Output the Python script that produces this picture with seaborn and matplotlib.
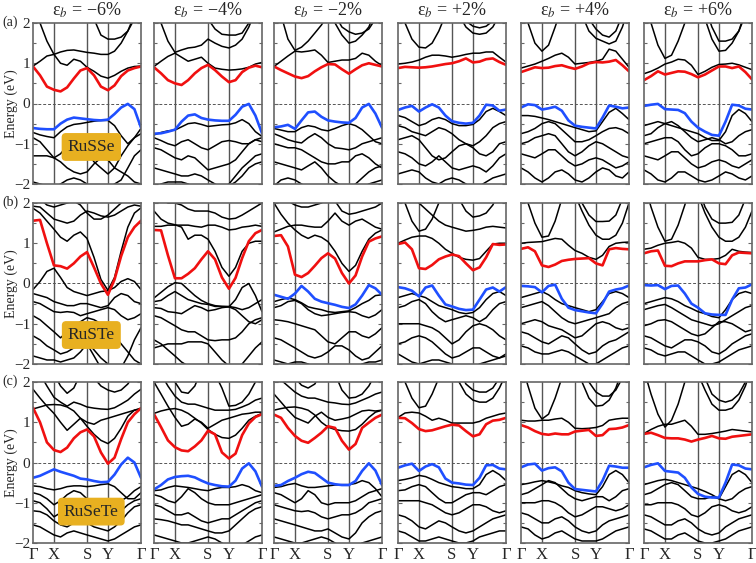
import matplotlib
matplotlib.use("Agg")
import matplotlib.pyplot as plt
import matplotlib.ticker as ticker
import seaborn as sns

# ── k-path and labels ──────────────────────────────────────────────────────────
K_PATH = [0.000, 0.065, 0.129, 0.194, 0.255, 0.316, 0.378, 0.439, 0.500,
          0.565, 0.629, 0.694, 0.755, 0.816, 0.878, 0.939, 1.000]
K_TICKS = [0.0, 0.194, 0.5, 0.694, 1.0]
K_LABELS = ["Γ", "X", "S", "Y", "Γ"]

STRAINS = ["−6%", "−4%", "−2%", "+2%", "+4%", "+6%"]
MATERIALS = ["RuSSe", "RuSTe", "RuSeTe"]
ROW_TAGS = ["(a)", "(b)", "(c)"]
LABEL_Y = [-1.08, -1.28, -1.22]

# ── (a) RuSSe ──────────────────────────────────────────────────────────────────
russe_cbm = [
    [0.92, 0.70, 0.42, 0.34, 0.30, 0.40, 0.62, 0.82, 0.88, 0.70, 0.42, 0.33, 0.45, 0.68, 0.82, 0.88, 0.92],
    [0.90, 0.75, 0.58, 0.50, 0.46, 0.58, 0.75, 0.88, 0.96, 0.83, 0.67, 0.53, 0.58, 0.78, 0.89, 0.94, 0.90],
    [0.92, 0.83, 0.75, 0.67, 0.63, 0.68, 0.80, 0.90, 0.98, 0.97, 0.85, 0.74, 0.85, 0.95, 1.00, 0.96, 0.92],
    [0.88, 0.91, 0.90, 0.89, 0.90, 0.92, 0.95, 0.98, 1.00, 1.05, 1.12, 1.02, 1.04, 1.10, 1.12, 1.03, 0.96],
    [0.78, 0.84, 0.90, 0.88, 0.89, 0.93, 0.95, 0.90, 0.86, 0.92, 1.00, 1.03, 1.02, 1.04, 1.08, 0.95, 0.80],
    [0.58, 0.68, 0.80, 0.72, 0.76, 0.80, 0.79, 0.73, 0.65, 0.72, 0.82, 0.92, 0.92, 0.88, 0.92, 0.78, 0.60],
]
russe_vbm = [
    [-0.61, -0.63, -0.64, -0.64, -0.50, -0.40, -0.35, -0.37, -0.39, -0.41, -0.42, -0.40, -0.26, -0.10, -0.01, -0.14, -0.60],
    [-0.75, -0.74, -0.70, -0.65, -0.45, -0.30, -0.27, -0.36, -0.40, -0.42, -0.43, -0.43, -0.28, -0.08, -0.01, -0.30, -0.74],
    [-0.59, -0.57, -0.53, -0.63, -0.42, -0.22, -0.20, -0.33, -0.42, -0.45, -0.47, -0.48, -0.36, -0.10, -0.01, -0.25, -0.60],
    [-0.16, -0.10, -0.06, -0.20, -0.10, -0.02, -0.10, -0.30, -0.44, -0.48, -0.50, -0.48, -0.30, -0.03, -0.05, -0.18, -0.15],
    [-0.10, -0.02, -0.04, -0.15, -0.12, -0.08, -0.18, -0.42, -0.55, -0.58, -0.60, -0.62, -0.35, -0.05, -0.08, -0.12, -0.10],
    [-0.06, -0.03, -0.01, -0.14, -0.15, -0.16, -0.24, -0.45, -0.60, -0.70, -0.78, -0.80, -0.45, -0.03, -0.05, -0.13, -0.15],
]
russe_other = [
    [   # -6%
        [0.93, 1.05, 1.18, 1.22, 1.00, 0.95, 1.10, 1.05, 0.90, 0.80, 0.68, 0.63, 0.70, 0.80, 0.88, 0.92, 0.93],
        [2.60, 2.00, 1.55, 1.22, 1.28, 1.32, 1.33, 1.30, 1.27, 1.25, 1.22, 1.22, 1.30, 1.50, 1.80, 2.10, 2.40],
        [3.00, 2.90, 2.80, 2.70, 2.70, 2.75, 2.80, 2.70, 2.50, 2.10, 1.70, 1.60, 1.60, 1.65, 1.80, 2.20, 2.60],
        [-0.72, -0.78, -0.82, -0.85, -0.70, -0.58, -0.52, -0.50, -0.47, -0.44, -0.42, -0.42, -0.55, -0.80, -1.00, -0.85, -0.62],
        [-0.85, -0.95, -1.15, -1.35, -1.25, -1.05, -0.95, -1.00, -1.20, -1.45, -1.60, -1.75, -1.60, -1.30, -1.05, -0.85, -0.75],
        [-1.30, -1.30, -1.30, -1.35, -1.45, -1.60, -1.70, -1.75, -1.70, -1.50, -1.35, -1.40, -1.60, -1.70, -1.80, -1.95, -2.00],
        [-1.95, -2.00, -2.05, -2.10, -2.00, -1.90, -1.85, -1.90, -2.00, -2.10, -2.15, -2.10, -2.00, -1.90, -1.60, -1.30, -1.15],
    ],
    [   # -4%
        [0.92, 1.05, 1.17, 1.25, 1.15, 1.05, 1.10, 1.15, 1.00, 0.88, 0.85, 0.83, 0.84, 0.86, 0.90, 0.98, 1.02],
        [2.60, 2.00, 1.55, 1.27, 1.33, 1.38, 1.40, 1.45, 1.60, 1.50, 1.42, 1.38, 1.45, 1.60, 1.90, 2.30, 2.60],
        [3.00, 2.90, 2.80, 2.80, 2.80, 2.70, 2.50, 2.30, 2.10, 1.85, 1.72, 1.70, 1.70, 1.75, 2.00, 2.40, 2.80],
        [-0.78, -0.72, -0.68, -0.66, -0.58, -0.50, -0.48, -0.52, -0.57, -0.55, -0.53, -0.52, -0.48, -0.40, -0.50, -0.70, -0.82],
        [-0.85, -0.92, -1.00, -1.05, -0.95, -0.90, -1.00, -1.10, -1.15, -1.05, -0.95, -0.92, -0.95, -1.00, -1.00, -0.90, -0.85],
        [-1.10, -1.15, -1.25, -1.35, -1.40, -1.30, -1.35, -1.50, -1.65, -1.60, -1.55, -1.50, -1.40, -1.20, -1.00, -0.90, -0.95],
        [-1.60, -1.65, -1.70, -1.75, -1.80, -1.80, -1.75, -1.80, -1.90, -2.00, -2.10, -2.00, -1.80, -1.60, -1.45, -1.30, -1.25],
        [-2.10, -2.00, -1.95, -1.95, -1.95, -2.00, -2.10, -2.20, -2.20, -2.15, -2.10, -2.05, -1.95, -1.80, -1.60, -1.50, -1.45],
    ],
    [   # -2%
        [0.92, 1.05, 1.18, 1.30, 1.28, 1.30, 1.33, 1.20, 1.02, 1.05, 1.08, 1.08, 1.12, 1.25, 1.20, 1.05, 0.94],
        [2.80, 2.20, 1.60, 1.32, 1.40, 1.55, 1.75, 1.95, 2.20, 2.50, 2.80, 3.00, 3.00, 3.00, 3.00, 3.00, 3.00],
        [3.00, 3.00, 3.00, 3.00, 3.00, 3.00, 2.90, 2.70, 2.40, 2.00, 1.70, 1.50, 1.55, 1.70, 1.90, 2.30, 2.70],
        [3.00, 3.00, 3.00, 3.00, 3.00, 3.00, 3.00, 2.90, 2.60, 2.20, 1.90, 1.78, 1.72, 1.75, 1.85, 2.10, 2.50],
        [-0.62, -0.66, -0.70, -0.70, -0.60, -0.55, -0.58, -0.65, -0.68, -0.62, -0.55, -0.50, -0.55, -0.65, -0.80, -0.95, -1.00],
        [-0.75, -0.82, -0.90, -0.95, -0.98, -0.85, -0.75, -0.85, -1.00, -1.10, -1.12, -1.15, -1.10, -1.00, -0.95, -0.90, -0.85],
        [-1.00, -1.05, -1.10, -1.10, -1.15, -1.25, -1.35, -1.45, -1.50, -1.50, -1.45, -1.45, -1.30, -1.25, -1.35, -1.50, -1.60],
        [-1.45, -1.50, -1.55, -1.60, -1.65, -1.55, -1.45, -1.60, -1.80, -1.95, -2.05, -2.10, -2.00, -1.85, -1.70, -1.60, -1.55],
        [-2.05, -1.90, -1.85, -1.90, -2.00, -2.10, -2.20, -2.20, -2.20, -2.20, -2.20, -2.20, -2.20, -2.10, -2.00, -1.95, -1.90],
    ],
    [   # +2%
        [0.98, 1.00, 1.03, 1.08, 1.15, 1.20, 1.20, 1.18, 1.15, 1.18, 1.22, 1.25, 1.25, 1.28, 1.28, 1.15, 1.03],
        [2.50, 2.00, 1.60, 1.40, 1.38, 1.50, 1.80, 2.20, 2.60, 3.00, 3.00, 3.00, 3.00, 3.00, 3.00, 3.00, 3.00],
        [3.00, 3.00, 3.00, 3.00, 3.00, 3.00, 3.00, 2.90, 2.60, 2.20, 1.90, 1.75, 1.72, 1.75, 1.90, 2.20, 2.60],
        [3.00, 3.00, 3.00, 3.00, 3.00, 3.00, 3.00, 3.00, 2.80, 2.40, 2.05, 1.92, 1.88, 1.92, 2.05, 2.30, 2.70],
        [-0.30, -0.35, -0.45, -0.55, -0.50, -0.40, -0.35, -0.40, -0.50, -0.55, -0.55, -0.52, -0.40, -0.20, -0.12, -0.20, -0.30],
        [-0.55, -0.60, -0.70, -0.75, -0.80, -0.70, -0.60, -0.65, -0.75, -0.90, -1.00, -1.05, -0.95, -0.80, -0.60, -0.50, -0.45],
        [-0.90, -0.85, -0.80, -0.90, -1.10, -1.30, -1.40, -1.35, -1.20, -1.05, -1.00, -1.10, -1.25, -1.30, -1.20, -1.00, -0.95],
        [-1.20, -1.25, -1.35, -1.50, -1.55, -1.45, -1.30, -1.45, -1.60, -1.65, -1.60, -1.55, -1.60, -1.70, -1.55, -1.35, -1.25],
        [-1.75, -1.70, -1.65, -1.70, -1.85, -1.95, -2.00, -1.90, -1.85, -1.90, -2.00, -2.10, -2.05, -1.95, -1.85, -1.80, -1.75],
    ],
    [   # +4%
        [0.88, 0.93, 0.98, 1.05, 1.12, 1.20, 1.25, 1.15, 0.98, 1.00, 1.02, 1.05, 1.10, 1.35, 1.30, 1.10, 0.90],
        [2.60, 2.00, 1.50, 1.30, 1.45, 1.90, 2.40, 2.90, 3.00, 3.00, 3.00, 3.00, 3.00, 3.00, 3.00, 3.00, 3.00],
        [3.00, 3.00, 3.00, 3.00, 3.00, 3.00, 3.00, 2.90, 2.60, 2.20, 1.80, 1.62, 1.55, 1.48, 1.55, 1.90, 2.40],
        [3.00, 3.00, 3.00, 3.00, 3.00, 3.00, 3.00, 3.00, 2.90, 2.50, 2.10, 1.85, 1.70, 1.65, 1.80, 2.20, 2.70],
        [-0.30, -0.30, -0.32, -0.36, -0.40, -0.45, -0.50, -0.55, -0.60, -0.65, -0.70, -0.68, -0.45, -0.22, -0.12, -0.25, -0.40],
        [-0.75, -0.70, -0.62, -0.50, -0.45, -0.50, -0.65, -0.80, -0.95, -0.95, -0.90, -0.80, -0.70, -0.62, -0.60, -0.65, -0.75],
        [-1.00, -0.95, -0.85, -0.80, -0.75, -0.80, -1.00, -1.20, -1.30, -1.20, -1.05, -0.95, -1.00, -1.10, -1.20, -1.30, -1.35],
        [-1.25, -1.30, -1.35, -1.25, -1.15, -1.15, -1.30, -1.45, -1.55, -1.50, -1.40, -1.35, -1.40, -1.50, -1.60, -1.55, -1.45],
        [-1.60, -1.70, -1.85, -1.95, -1.85, -1.70, -1.65, -1.75, -1.90, -1.95, -1.85, -1.70, -1.60, -1.65, -1.80, -1.85, -1.70],
    ],
    [   # +6%
        [0.74, 0.80, 0.88, 0.98, 1.03, 1.10, 1.08, 0.95, 0.72, 0.80, 0.90, 0.97, 0.98, 1.00, 0.96, 0.90, 0.84],
        [2.60, 2.00, 1.45, 1.12, 1.20, 1.55, 2.00, 2.50, 3.00, 3.00, 3.00, 3.00, 3.00, 3.00, 3.00, 3.00, 3.00],
        [3.00, 3.00, 3.00, 3.00, 3.00, 3.00, 3.00, 3.00, 2.70, 2.10, 1.60, 1.30, 1.32, 1.50, 1.80, 2.30, 2.80],
        [3.00, 3.00, 3.00, 3.00, 3.00, 3.00, 3.00, 3.00, 3.00, 2.40, 1.90, 1.55, 1.55, 1.60, 1.80, 2.20, 2.60],
        [-0.55, -0.50, -0.45, -0.50, -0.55, -0.60, -0.65, -0.70, -0.75, -0.85, -0.92, -0.92, -0.70, -0.30, -0.15, -0.25, -0.45],
        [-0.80, -0.75, -0.60, -0.50, -0.45, -0.55, -0.70, -0.85, -0.95, -0.90, -0.85, -0.90, -1.00, -0.95, -0.80, -0.70, -0.65],
        [-1.00, -0.95, -0.90, -0.85, -0.85, -0.95, -1.15, -1.30, -1.25, -1.10, -1.00, -1.00, -1.05, -1.15, -1.30, -1.30, -1.25],
        [-1.30, -1.35, -1.40, -1.30, -1.20, -1.20, -1.35, -1.50, -1.60, -1.55, -1.45, -1.40, -1.45, -1.55, -1.60, -1.50, -1.40],
        [-1.65, -1.75, -1.90, -1.95, -1.85, -1.70, -1.70, -1.80, -1.90, -1.95, -1.90, -1.80, -1.70, -1.75, -1.85, -1.90, -1.80],
    ],
]

# ── (b) RuSTe ──────────────────────────────────────────────────────────────────
rusten_cbm = [
    [1.56, 1.58, 1.00, 0.45, 0.43, 0.37, 0.50, 0.67, 0.78, 0.40, 0.00, -0.28, 0.10, 0.68, 1.15, 1.40, 1.56],
    [1.33, 1.32, 0.70, 0.13, 0.13, 0.24, 0.38, 0.60, 0.80, 0.60, 0.15, -0.13, 0.14, 0.63, 1.05, 1.25, 1.33],
    [1.18, 1.20, 0.92, 0.22, 0.16, 0.26, 0.44, 0.63, 0.75, 0.62, 0.26, 0.00, 0.20, 0.67, 1.04, 1.12, 1.17],
    [0.98, 1.02, 0.85, 0.38, 0.36, 0.46, 0.60, 0.67, 0.72, 0.68, 0.50, 0.33, 0.40, 0.65, 0.98, 0.96, 0.97],
    [0.86, 0.90, 0.80, 0.45, 0.41, 0.47, 0.56, 0.59, 0.61, 0.62, 0.63, 0.50, 0.45, 0.85, 0.88, 0.86, 0.85],
    [0.75, 0.80, 0.82, 0.44, 0.43, 0.50, 0.55, 0.55, 0.55, 0.58, 0.60, 0.50, 0.48, 0.70, 0.77, 0.76, 0.75],
]
rusten_vbm = [
    None,
    None,
    [-0.28, -0.33, -0.38, -0.25, -0.06, -0.20, -0.38, -0.45, -0.49, -0.53, -0.58, -0.61, -0.52, -0.30, -0.04, -0.12, -0.28],
    [-0.09, -0.12, -0.18, -0.32, -0.10, -0.05, -0.30, -0.52, -0.57, -0.63, -0.66, -0.65, -0.40, -0.15, -0.10, -0.20, -0.09],
    [-0.06, -0.07, -0.09, -0.22, -0.06, -0.03, -0.38, -0.60, -0.66, -0.69, -0.72, -0.74, -0.50, -0.20, -0.15, -0.12, -0.05],
    [-0.04, -0.05, -0.04, -0.14, -0.06, -0.05, -0.25, -0.50, -0.60, -0.74, -0.77, -0.78, -0.78, -0.40, -0.12, -0.10, -0.02],
]
rusten_other = [
    [   # -6%
        [1.87, 1.75, 1.55, 1.35, 1.15, 1.05, 1.20, 1.28, 1.12, 0.65, 0.10, -0.17, 0.15, 0.80, 1.40, 1.75, 1.88],
        [1.92, 1.90, 1.75, 1.60, 1.55, 1.50, 1.55, 1.70, 1.80, 1.75, 1.68, 1.65, 1.70, 1.80, 1.90, 1.95, 1.92],
        [2.20, 2.10, 1.95, 1.90, 1.95, 2.00, 2.05, 1.95, 1.75, 1.60, 1.60, 1.70, 1.85, 2.00, 2.10, 2.20, 2.30],
        [-0.15, 0.05, 0.30, 0.38, 0.15, -0.10, -0.20, -0.25, -0.30, -0.25, -0.20, -0.18, -0.10, 0.05, 0.12, 0.05, -0.15],
        [-0.25, -0.30, -0.35, -0.45, -0.50, -0.55, -0.55, -0.50, -0.50, -0.55, -0.60, -0.55, -0.35, -0.25, -0.30, -0.45, -0.50],
        [-0.45, -0.50, -0.60, -0.70, -0.72, -0.70, -0.72, -0.80, -0.75, -0.70, -0.65, -0.60, -0.65, -0.80, -0.90, -0.85, -0.75],
        [-0.80, -0.90, -1.05, -1.20, -1.35, -1.20, -1.05, -0.95, -0.85, -0.90, -1.00, -1.10, -1.30, -1.50, -1.70, -1.90, -2.00],
        [-1.30, -1.40, -1.55, -1.65, -1.75, -1.70, -1.60, -1.55, -1.45, -1.65, -1.85, -2.00, -2.10, -2.20, -2.20, -2.20, -2.20],
        [-1.80, -1.85, -1.90, -1.90, -1.95, -1.90, -1.85, -1.70, -1.50, -1.80, -2.10, -2.20, -2.20, -2.10, -1.80, -1.40, -1.10],
    ],
    [   # -4%
        [1.80, 1.60, 1.50, 1.46, 1.40, 1.10, 1.20, 1.20, 1.10, 0.80, 0.40, 0.18, 0.40, 0.80, 1.00, 1.05, 1.05],
        [1.42, 1.42, 1.45, 1.45, 1.45, 1.45, 1.42, 1.40, 1.45, 1.45, 1.40, 1.33, 1.35, 1.40, 1.42, 1.45, 1.42],
        [2.30, 2.10, 2.00, 2.00, 1.95, 1.85, 1.80, 1.80, 1.80, 1.75, 1.65, 1.60, 1.62, 1.70, 1.80, 1.90, 2.00],
        [-0.36, -0.22, -0.08, 0.02, 0.00, -0.15, -0.30, -0.42, -0.50, -0.55, -0.57, -0.58, -0.40, -0.10, 0.00, -0.30, -0.70],
        [-0.45, -0.42, -0.30, -0.20, -0.30, -0.40, -0.45, -0.50, -0.52, -0.57, -0.57, -0.57, -0.60, -0.65, -0.60, -0.50, -0.40],
        [-0.60, -0.62, -0.70, -0.72, -0.75, -0.65, -0.55, -0.60, -0.68, -0.65, -0.60, -0.58, -0.65, -0.80, -0.95, -1.00, -0.90],
        [-0.80, -0.85, -0.95, -1.05, -1.15, -1.20, -1.20, -1.30, -1.40, -1.42, -1.40, -1.40, -1.35, -1.20, -1.00, -0.90, -0.85],
        [-1.40, -1.50, -1.65, -1.80, -1.95, -2.05, -2.10, -2.10, -2.10, -2.10, -2.10, -2.10, -2.10, -2.00, -1.80, -1.60, -1.45],
        [-1.60, -1.55, -1.50, -1.50, -1.50, -1.45, -1.45, -1.45, -1.50, -1.70, -1.90, -2.05, -2.10, -2.10, -2.10, -2.10, -2.10],
    ],
    [   # -2%
        [2.00, 1.72, 1.50, 1.33, 1.20, 1.12, 1.20, 1.15, 1.04, 0.80, 0.50, 0.30, 0.45, 0.80, 1.10, 1.25, 1.33],
        [1.28, 1.35, 1.42, 1.45, 1.45, 1.42, 1.40, 1.40, 1.55, 1.75, 1.55, 1.45, 1.55, 1.60, 1.50, 1.40, 1.35],
        [2.40, 2.20, 2.05, 1.95, 1.90, 1.90, 1.95, 2.00, 2.10, 2.05, 1.80, 1.72, 1.75, 1.80, 1.85, 1.90, 2.00],
        [-0.45, -0.40, -0.36, -0.40, -0.48, -0.58, -0.62, -0.65, -0.70, -0.72, -0.70, -0.68, -0.60, -0.50, -0.42, -0.30, -0.28],
        [-0.60, -0.55, -0.45, -0.42, -0.50, -0.65, -0.75, -0.80, -0.78, -0.75, -0.72, -0.70, -0.72, -0.80, -0.85, -0.78, -0.65],
        [-0.90, -0.92, -0.95, -1.00, -1.05, -1.10, -1.15, -1.30, -1.45, -1.50, -1.35, -1.20, -1.20, -1.30, -1.35, -1.25, -1.10],
        [-1.35, -1.40, -1.50, -1.60, -1.70, -1.80, -1.85, -1.80, -1.70, -1.55, -1.55, -1.65, -1.80, -1.90, -1.85, -1.70, -1.55],
        [-1.90, -1.95, -2.00, -1.95, -1.95, -2.00, -2.10, -2.20, -2.20, -2.20, -2.20, -2.20, -2.10, -2.00, -1.95, -1.95, -1.90],
    ],
    [   # +2%
        [1.00, 1.08, 1.15, 1.18, 1.18, 1.12, 1.00, 0.85, 0.75, 0.65, 0.60, 0.58, 0.62, 0.80, 0.98, 1.00, 1.00],
        [2.60, 2.00, 1.55, 1.30, 1.35, 1.60, 2.00, 2.40, 2.80, 3.00, 3.00, 3.00, 3.00, 3.00, 3.00, 3.00, 3.00],
        [2.80, 2.50, 2.20, 2.00, 1.85, 1.70, 1.55, 1.45, 1.40, 1.35, 1.30, 1.32, 1.35, 1.40, 1.42, 1.40, 1.38],
        [3.00, 3.00, 3.00, 3.00, 3.00, 3.00, 3.00, 3.00, 2.60, 2.10, 1.80, 1.65, 1.68, 1.75, 1.95, 2.30, 2.70],
        [-0.35, -0.30, -0.25, -0.30, -0.35, -0.45, -0.55, -0.60, -0.65, -0.72, -0.75, -0.72, -0.60, -0.40, -0.25, -0.20, -0.30],
        [-0.60, -0.55, -0.45, -0.40, -0.50, -0.70, -0.85, -0.95, -0.90, -0.85, -0.80, -0.85, -0.95, -0.85, -0.65, -0.50, -0.45],
        [-1.00, -1.00, -1.00, -1.00, -1.05, -1.10, -1.20, -1.35, -1.50, -1.40, -1.20, -1.05, -1.00, -1.05, -1.15, -1.30, -1.40],
        [-1.50, -1.45, -1.35, -1.30, -1.35, -1.45, -1.60, -1.75, -1.85, -1.80, -1.70, -1.60, -1.60, -1.70, -1.80, -1.85, -1.75],
        [-1.75, -1.85, -1.95, -2.00, -1.95, -1.90, -1.90, -1.95, -2.00, -2.10, -2.15, -2.10, -2.00, -1.95, -1.90, -1.85, -1.80],
    ],
    [   # +4%
        [1.00, 1.02, 1.03, 1.04, 1.08, 1.12, 1.10, 0.95, 0.82, 0.75, 0.65, 0.60, 0.70, 0.92, 1.00, 1.02, 1.03],
        [2.60, 2.00, 1.50, 1.15, 1.18, 1.55, 2.10, 2.70, 3.00, 3.00, 3.00, 3.00, 3.00, 3.00, 3.00, 3.00, 3.00],
        [3.00, 3.00, 3.00, 3.00, 3.00, 3.00, 3.00, 2.90, 2.50, 2.00, 1.70, 1.54, 1.54, 1.55, 1.70, 2.10, 2.60],
        [3.00, 3.00, 3.00, 3.00, 3.00, 3.00, 3.00, 2.60, 2.20, 1.80, 1.45, 1.20, 1.10, 1.10, 1.20, 1.50, 2.00],
        [-0.35, -0.30, -0.25, -0.20, -0.28, -0.40, -0.50, -0.55, -0.60, -0.65, -0.70, -0.65, -0.45, -0.25, -0.20, -0.25, -0.35],
        [-0.60, -0.55, -0.50, -0.45, -0.55, -0.70, -0.85, -0.95, -1.00, -0.95, -0.90, -0.85, -0.80, -0.75, -0.60, -0.50, -0.45],
        [-1.00, -0.95, -0.90, -0.95, -1.05, -1.10, -1.15, -1.25, -1.35, -1.30, -1.15, -1.00, -0.95, -1.00, -1.10, -1.15, -1.10],
        [-1.20, -1.25, -1.35, -1.45, -1.50, -1.40, -1.30, -1.35, -1.50, -1.65, -1.75, -1.70, -1.55, -1.45, -1.40, -1.30, -1.20],
        [-1.55, -1.60, -1.70, -1.75, -1.75, -1.70, -1.65, -1.70, -1.80, -1.90, -2.00, -2.00, -1.90, -1.80, -1.70, -1.60, -1.55],
    ],
    [   # +6%
        [0.85, 0.88, 0.95, 1.00, 1.02, 1.05, 1.00, 0.88, 0.65, 0.60, 0.60, 0.62, 0.70, 0.85, 0.80, 0.78, 0.77],
        [2.50, 1.90, 1.40, 1.05, 1.10, 1.45, 1.95, 2.50, 3.00, 3.00, 3.00, 3.00, 3.00, 3.00, 3.00, 3.00, 3.00],
        [3.00, 3.00, 3.00, 3.00, 3.00, 3.00, 3.00, 2.90, 2.40, 1.90, 1.60, 1.50, 1.50, 1.52, 1.70, 2.10, 2.60],
        [3.00, 3.00, 3.00, 3.00, 3.00, 3.00, 3.00, 2.60, 2.20, 1.75, 1.40, 1.15, 1.05, 1.05, 1.15, 1.40, 1.80],
        [-0.50, -0.45, -0.40, -0.35, -0.38, -0.45, -0.55, -0.62, -0.70, -0.75, -0.82, -0.85, -0.65, -0.40, -0.25, -0.20, -0.25],
        [-0.65, -0.60, -0.55, -0.52, -0.60, -0.70, -0.80, -0.90, -0.95, -1.00, -1.05, -1.00, -0.90, -0.80, -0.70, -0.60, -0.55],
        [-1.05, -1.00, -0.92, -0.90, -0.95, -1.05, -1.15, -1.25, -1.30, -1.25, -1.10, -0.95, -0.95, -1.00, -1.10, -1.20, -1.15],
        [-1.30, -1.35, -1.45, -1.55, -1.60, -1.50, -1.40, -1.40, -1.45, -1.55, -1.70, -1.75, -1.65, -1.50, -1.40, -1.30, -1.25],
        [-1.60, -1.65, -1.75, -1.80, -1.75, -1.70, -1.70, -1.80, -1.90, -2.00, -2.00, -1.95, -1.85, -1.75, -1.65, -1.60, -1.55],
    ],
]

# ── (c) RuSeTe ─────────────────────────────────────────────────────────────────
rusete_cbm = [
    [1.36, 1.00, 0.50, 0.31, 0.26, 0.37, 0.60, 0.75, 0.82, 0.65, 0.25, -0.03, 0.12, 0.58, 1.00, 1.20, 1.35],
    [1.20, 0.88, 0.55, 0.38, 0.30, 0.28, 0.40, 0.55, 0.79, 0.70, 0.25, 0.10, 0.22, 0.68, 0.97, 1.13, 1.20],
    [1.19, 1.11, 0.86, 0.66, 0.54, 0.49, 0.61, 0.74, 0.90, 0.86, 0.54, 0.32, 0.46, 0.86, 0.99, 1.11, 1.19],
    [1.11, 1.10, 0.98, 0.83, 0.78, 0.80, 0.85, 0.90, 0.94, 0.92, 0.78, 0.65, 0.70, 0.95, 1.04, 1.06, 1.11],
    [0.93, 0.87, 0.78, 0.71, 0.69, 0.72, 0.70, 0.70, 0.77, 0.79, 0.81, 0.66, 0.68, 0.83, 0.84, 0.87, 0.93],
    [0.71, 0.74, 0.68, 0.61, 0.60, 0.60, 0.57, 0.52, 0.57, 0.61, 0.66, 0.60, 0.59, 0.64, 0.66, 0.68, 0.70],
]
rusete_vbm = [
    [-0.38, -0.33, -0.25, -0.17, -0.23, -0.28, -0.33, -0.40, -0.42, -0.46, -0.49, -0.48, -0.30, -0.05, 0.12, 0.00, -0.38],
    [-0.67, -0.56, -0.42, -0.36, -0.34, -0.33, -0.37, -0.45, -0.52, -0.56, -0.59, -0.60, -0.45, -0.15, -0.02, -0.22, -0.60],
    [-0.58, -0.56, -0.46, -0.38, -0.29, -0.23, -0.26, -0.38, -0.50, -0.54, -0.56, -0.56, -0.46, -0.21, -0.02, -0.20, -0.56],
    [-0.13, -0.07, -0.03, -0.21, -0.10, -0.04, -0.12, -0.40, -0.50, -0.52, -0.55, -0.56, -0.38, -0.07, -0.06, -0.15, -0.17],
    [-0.12, -0.05, -0.03, -0.20, -0.14, -0.12, -0.22, -0.50, -0.66, -0.68, -0.70, -0.72, -0.45, -0.08, -0.10, -0.13, -0.13],
    [-0.12, -0.06, -0.02, -0.21, -0.23, -0.25, -0.38, -0.62, -0.78, -0.85, -0.87, -0.87, -0.50, -0.05, -0.07, -0.15, -0.17],
]
rusete_other = [
    [   # -6%
        [1.33, 1.38, 1.43, 1.44, 1.43, 1.38, 1.28, 1.10, 0.90, 0.70, 0.55, 0.47, 0.60, 0.85, 1.15, 1.30, 1.35],
        [1.82, 1.60, 1.40, 1.22, 1.00, 0.80, 0.95, 1.10, 1.00, 0.95, 1.05, 1.10, 1.15, 1.20, 1.25, 1.30, 1.33],
        [2.40, 2.20, 1.90, 1.62, 1.50, 1.40, 1.50, 1.45, 1.38, 1.35, 1.33, 1.32, 1.36, 1.45, 1.55, 1.70, 1.82],
        [2.80, 2.60, 2.40, 2.20, 1.90, 1.72, 1.85, 2.20, 2.60, 3.00, 3.00, 3.00, 3.00, 3.00, 3.00, 3.00, 3.00],
        [3.00, 3.00, 3.00, 3.00, 3.00, 3.00, 3.00, 2.80, 2.40, 2.10, 1.90, 1.80, 1.75, 1.80, 1.95, 2.20, 2.50],
        [-0.58, -0.60, -0.65, -0.68, -0.65, -0.60, -0.58, -0.58, -0.60, -0.58, -0.55, -0.53, -0.60, -0.75, -0.90, -0.90, -0.75],
        [-0.75, -0.80, -0.90, -1.05, -0.95, -0.80, -0.70, -0.75, -0.90, -1.00, -1.05, -1.05, -1.00, -0.95, -0.85, -0.70, -0.60],
        [-0.95, -1.00, -1.15, -1.35, -1.25, -1.05, -1.00, -1.05, -1.15, -1.25, -1.30, -1.30, -1.25, -1.20, -1.05, -0.95, -0.90],
        [-1.20, -1.22, -1.30, -1.45, -1.55, -1.60, -1.50, -1.45, -1.50, -1.60, -1.65, -1.70, -1.60, -1.45, -1.25, -1.10, -1.05],
        [-1.55, -1.60, -1.70, -1.80, -1.85, -1.75, -1.70, -1.75, -1.80, -1.85, -1.90, -1.95, -1.90, -1.80, -1.70, -1.60, -1.55],
    ],
    [   # -4%
        [1.22, 1.28, 1.32, 1.34, 1.30, 1.22, 1.10, 0.98, 0.82, 0.70, 0.62, 0.60, 0.68, 0.85, 1.05, 1.15, 1.22],
        [2.00, 1.70, 1.40, 1.12, 0.90, 0.95, 1.08, 1.00, 0.85, 0.95, 1.05, 1.10, 1.15, 1.20, 1.22, 1.25, 1.25],
        [2.50, 2.20, 1.90, 1.65, 1.50, 1.45, 1.45, 1.40, 1.35, 1.30, 1.30, 1.30, 1.32, 1.38, 1.45, 1.55, 1.60],
        [3.00, 2.70, 2.30, 2.00, 1.75, 1.72, 1.90, 2.30, 2.70, 3.00, 3.00, 3.00, 3.00, 3.00, 3.00, 3.00, 3.00],
        [3.00, 3.00, 3.00, 3.00, 3.00, 3.00, 3.00, 3.00, 2.60, 2.20, 1.85, 1.40, 1.42, 1.50, 1.70, 2.00, 2.40],
        [-0.70, -0.68, -0.62, -0.58, -0.60, -0.62, -0.65, -0.68, -0.70, -0.65, -0.62, -0.62, -0.60, -0.55, -0.60, -0.70, -0.75],
        [-0.80, -0.85, -0.95, -1.00, -0.85, -0.65, -0.75, -0.90, -1.00, -1.05, -1.05, -1.05, -1.00, -0.95, -0.90, -0.85, -0.80],
        [-1.05, -1.10, -1.20, -1.30, -1.30, -1.25, -1.35, -1.45, -1.50, -1.45, -1.40, -1.40, -1.30, -1.20, -1.10, -1.00, -0.95],
        [-1.40, -1.42, -1.45, -1.50, -1.55, -1.55, -1.60, -1.65, -1.70, -1.75, -1.75, -1.70, -1.55, -1.40, -1.25, -1.15, -1.10],
        [-1.80, -1.85, -1.90, -1.95, -2.00, -2.00, -1.95, -1.90, -1.85, -1.90, -2.00, -2.10, -2.10, -2.05, -1.95, -1.85, -1.80],
    ],
    [   # -2%
        [1.30, 1.34, 1.37, 1.38, 1.35, 1.30, 1.18, 1.00, 0.88, 0.82, 0.79, 0.78, 0.82, 0.95, 1.12, 1.25, 1.30],
        [1.70, 1.50, 1.30, 1.12, 1.05, 0.98, 1.15, 1.25, 1.12, 1.05, 1.08, 1.12, 1.20, 1.28, 1.30, 1.28, 1.30],
        [2.20, 2.05, 1.90, 1.75, 1.65, 1.60, 1.60, 1.55, 1.50, 1.48, 1.45, 1.44, 1.48, 1.55, 1.62, 1.70, 1.75],
        [3.00, 2.70, 2.40, 2.10, 1.92, 1.85, 1.95, 2.25, 2.60, 3.00, 3.00, 3.00, 3.00, 3.00, 3.00, 3.00, 3.00],
        [3.00, 3.00, 3.00, 3.00, 3.00, 3.00, 3.00, 3.00, 2.70, 2.20, 1.80, 1.60, 1.62, 1.70, 1.90, 2.20, 2.60],
        [-0.62, -0.60, -0.55, -0.52, -0.58, -0.62, -0.62, -0.60, -0.58, -0.56, -0.55, -0.55, -0.52, -0.45, -0.50, -0.65, -0.85],
        [-0.75, -0.80, -0.90, -1.00, -0.90, -0.70, -0.80, -1.00, -1.05, -1.00, -1.00, -1.00, -0.95, -0.85, -0.75, -0.70, -0.65],
        [-1.05, -1.10, -1.15, -1.20, -1.22, -1.20, -1.25, -1.35, -1.40, -1.35, -1.30, -1.30, -1.25, -1.15, -1.00, -0.95, -0.90],
        [-1.40, -1.45, -1.50, -1.55, -1.60, -1.65, -1.70, -1.70, -1.65, -1.75, -1.85, -1.90, -1.75, -1.50, -1.35, -1.25, -1.20],
        [-1.85, -1.90, -1.95, -2.00, -2.00, -1.95, -1.90, -1.85, -1.90, -2.00, -2.10, -2.15, -2.10, -2.00, -1.95, -1.90, -1.85],
    ],
    [   # +2%
        [1.12, 1.23, 1.25, 1.23, 1.15, 1.05, 1.10, 1.05, 0.98, 0.98, 0.98, 0.98, 1.02, 1.10, 1.15, 1.20, 1.23],
        [2.50, 2.00, 1.60, 1.36, 1.40, 1.70, 2.10, 2.60, 3.00, 3.00, 3.00, 3.00, 3.00, 3.00, 3.00, 3.00, 3.00],
        [3.00, 3.00, 3.00, 3.00, 3.00, 3.00, 3.00, 2.90, 2.50, 2.00, 1.70, 1.55, 1.50, 1.50, 1.60, 1.85, 2.20],
        [3.00, 3.00, 3.00, 3.00, 3.00, 3.00, 3.00, 3.00, 2.80, 2.30, 1.95, 1.80, 1.75, 1.75, 1.85, 2.10, 2.50],
        [-0.45, -0.42, -0.38, -0.32, -0.35, -0.42, -0.50, -0.55, -0.60, -0.62, -0.65, -0.65, -0.55, -0.30, -0.20, -0.30, -0.45],
        [-0.70, -0.68, -0.60, -0.55, -0.60, -0.75, -0.90, -1.00, -1.00, -0.90, -0.80, -0.75, -0.75, -0.80, -0.70, -0.60, -0.55],
        [-0.95, -0.95, -0.95, -0.95, -1.00, -1.05, -1.15, -1.25, -1.30, -1.25, -1.15, -1.05, -1.05, -1.10, -1.20, -1.25, -1.20],
        [-1.30, -1.35, -1.45, -1.60, -1.65, -1.55, -1.45, -1.50, -1.60, -1.70, -1.75, -1.70, -1.60, -1.50, -1.40, -1.35, -1.30],
        [-1.70, -1.75, -1.85, -1.95, -1.95, -1.90, -1.85, -1.90, -1.95, -2.00, -2.00, -1.95, -1.85, -1.80, -1.75, -1.70, -1.70],
    ],
    [   # +4%
        [1.05, 1.03, 1.03, 1.05, 1.05, 1.08, 1.10, 1.00, 0.85, 0.84, 0.85, 0.87, 0.92, 1.05, 1.08, 1.10, 1.10],
        [2.50, 1.90, 1.35, 1.08, 1.20, 1.60, 2.10, 2.60, 3.00, 3.00, 3.00, 3.00, 3.00, 3.00, 3.00, 3.00, 3.00],
        [3.00, 3.00, 3.00, 3.00, 3.00, 3.00, 3.00, 2.90, 2.40, 2.00, 1.60, 1.40, 1.42, 1.55, 1.85, 2.30, 2.80],
        [3.00, 3.00, 3.00, 3.00, 3.00, 3.00, 3.00, 3.00, 2.80, 2.40, 2.00, 1.75, 1.65, 1.65, 1.80, 2.10, 2.50],
        [-0.55, -0.52, -0.48, -0.45, -0.48, -0.52, -0.58, -0.62, -0.70, -0.75, -0.78, -0.80, -0.60, -0.30, -0.20, -0.30, -0.50],
        [-0.80, -0.75, -0.65, -0.55, -0.45, -0.50, -0.65, -0.80, -0.90, -0.95, -0.90, -0.85, -0.85, -0.95, -0.85, -0.70, -0.65],
        [-1.00, -1.00, -1.00, -0.95, -0.95, -1.00, -1.10, -1.25, -1.35, -1.30, -1.20, -1.10, -1.10, -1.15, -1.20, -1.15, -1.05],
        [-1.25, -1.30, -1.40, -1.50, -1.50, -1.40, -1.35, -1.45, -1.60, -1.70, -1.75, -1.70, -1.55, -1.45, -1.40, -1.35, -1.30],
        [-1.60, -1.65, -1.80, -1.90, -1.85, -1.75, -1.70, -1.80, -1.90, -1.95, -1.95, -1.95, -1.90, -1.80, -1.70, -1.65, -1.60],
    ],
    [   # +6%
        [0.72, 0.82, 0.90, 0.95, 0.95, 1.00, 1.05, 0.90, 0.70, 0.70, 0.72, 0.75, 0.78, 0.82, 0.80, 0.78, 0.76],
        [2.30, 1.70, 1.20, 0.88, 1.05, 1.45, 2.00, 2.50, 3.00, 3.00, 3.00, 3.00, 3.00, 3.00, 3.00, 3.00, 3.00],
        [3.00, 3.00, 3.00, 3.00, 3.00, 3.00, 3.00, 2.80, 2.20, 1.80, 1.45, 1.30, 1.30, 1.35, 1.55, 1.90, 2.40],
        [3.00, 3.00, 3.00, 3.00, 3.00, 3.00, 3.00, 3.00, 2.60, 2.10, 1.70, 1.55, 1.50, 1.55, 1.70, 2.00, 2.40],
        [-0.55, -0.50, -0.45, -0.42, -0.45, -0.50, -0.55, -0.60, -0.65, -0.72, -0.80, -0.90, -0.60, -0.30, -0.20, -0.30, -0.50],
        [-0.80, -0.75, -0.65, -0.55, -0.50, -0.55, -0.70, -0.85, -0.90, -0.90, -0.85, -0.90, -0.95, -0.90, -0.75, -0.65, -0.60],
        [-1.05, -1.05, -1.00, -1.00, -1.00, -1.05, -1.15, -1.30, -1.35, -1.25, -1.10, -1.05, -1.10, -1.20, -1.25, -1.20, -1.10],
        [-1.30, -1.35, -1.45, -1.55, -1.55, -1.45, -1.40, -1.50, -1.65, -1.75, -1.80, -1.75, -1.60, -1.50, -1.40, -1.35, -1.30],
        [-1.65, -1.70, -1.80, -1.90, -1.90, -1.80, -1.75, -1.85, -1.95, -2.00, -2.00, -1.95, -1.90, -1.80, -1.70, -1.65, -1.60],
    ],
]

ROWS = [
    (russe_other, russe_cbm, russe_vbm),
    (rusten_other, rusten_cbm, rusten_vbm),
    (rusete_other, rusete_cbm, rusete_vbm),
]

# ── style ─────────────────────────────────────────────────────────────────────
sns.set_style("ticks")
plt.rcParams["font.family"] = ["Liberation Serif", "DejaVu Serif"]
plt.rcParams["mathtext.fontset"] = "stix"

FIG_W, FIG_H = 756, 563
LEFTS = [33, 154, 274, 398, 521, 644]
TOPS = [23, 203, 382]
PW, PH = 108, 161
FRAME = "#666666"


def draw_panel(ax, black, red, blue):
    for band in black:
        sns.lineplot(x=K_PATH, y=band, ax=ax, color="black", linewidth=1.1,
                     estimator=None, legend=False)
    if blue is not None:
        sns.lineplot(x=K_PATH, y=blue, ax=ax, color="#1f4fff", linewidth=1.9,
                     estimator=None, legend=False)
    sns.lineplot(x=K_PATH, y=red, ax=ax, color="#f01010", linewidth=1.9,
                 estimator=None, legend=False)

    for k in K_TICKS[1:4]:
        ax.axvline(k, color="#555555", lw=1.0, zorder=0)
    ax.axhline(0, color="#555555", lw=0.7, ls=(0, (3, 2)), zorder=0)

    ax.set_xlim(0, 1)
    ax.set_ylim(-2, 2)
    ax.set_xticks(K_TICKS)
    ax.set_yticks([-2, -1, 0, 1, 2])
    ax.yaxis.set_minor_locator(ticker.MultipleLocator(0.5))
    ax.tick_params(axis="y", which="both", direction="in", left=True, right=True,
                   color=FRAME, width=0.8, labelsize=11, pad=2)
    ax.tick_params(axis="y", which="major", length=3)
    ax.tick_params(axis="y", which="minor", length=2)
    ax.tick_params(axis="x", length=0, labelsize=12, pad=3)
    for sp in ax.spines.values():
        sp.set_color(FRAME)
        sp.set_linewidth(1.2)
    ax.set_xlabel("")
    ax.set_ylabel("")


fig = plt.figure(figsize=(FIG_W / 100, FIG_H / 100), dpi=100)

for r, (others, cbms, vbms) in enumerate(ROWS):
    for c in range(6):
        ax = fig.add_axes([LEFTS[c] / FIG_W, 1 - (TOPS[r] + PH) / FIG_H,
                           PW / FIG_W, PH / FIG_H])
        draw_panel(ax, others[c], cbms[c], vbms[c])

        if r == 0:
            ax.set_title(f"ε$_b$ = {STRAINS[c]}", fontsize=13, pad=5)
        if r == 2:
            ax.set_xticklabels(K_LABELS)
        else:
            ax.set_xticklabels([])
        if c == 0:
            ax.set_yticklabels(["−2", "−1", "0", "1", "2"])
            ax.text(0.54, LABEL_Y[r], MATERIALS[r], transform=ax.get_yaxis_transform(),
                    ha="center", va="center", fontsize=12.5, zorder=5,
                    bbox=dict(boxstyle="round,pad=0.3,rounding_size=0.2",
                              fc="#e8b020", ec="#e8b020"))
        else:
            ax.set_yticklabels([])

    fig.text(2 / FIG_W, 1 - (TOPS[r] - 1) / FIG_H, ROW_TAGS[r],
             fontsize=10, ha="left", va="center")
    fig.text(11 / FIG_W, 1 - (TOPS[r] + PH / 2) / FIG_H, "Energy (eV)",
             fontsize=10, rotation=90, ha="center", va="center")

fig.savefig("out.png", dpi=100)
